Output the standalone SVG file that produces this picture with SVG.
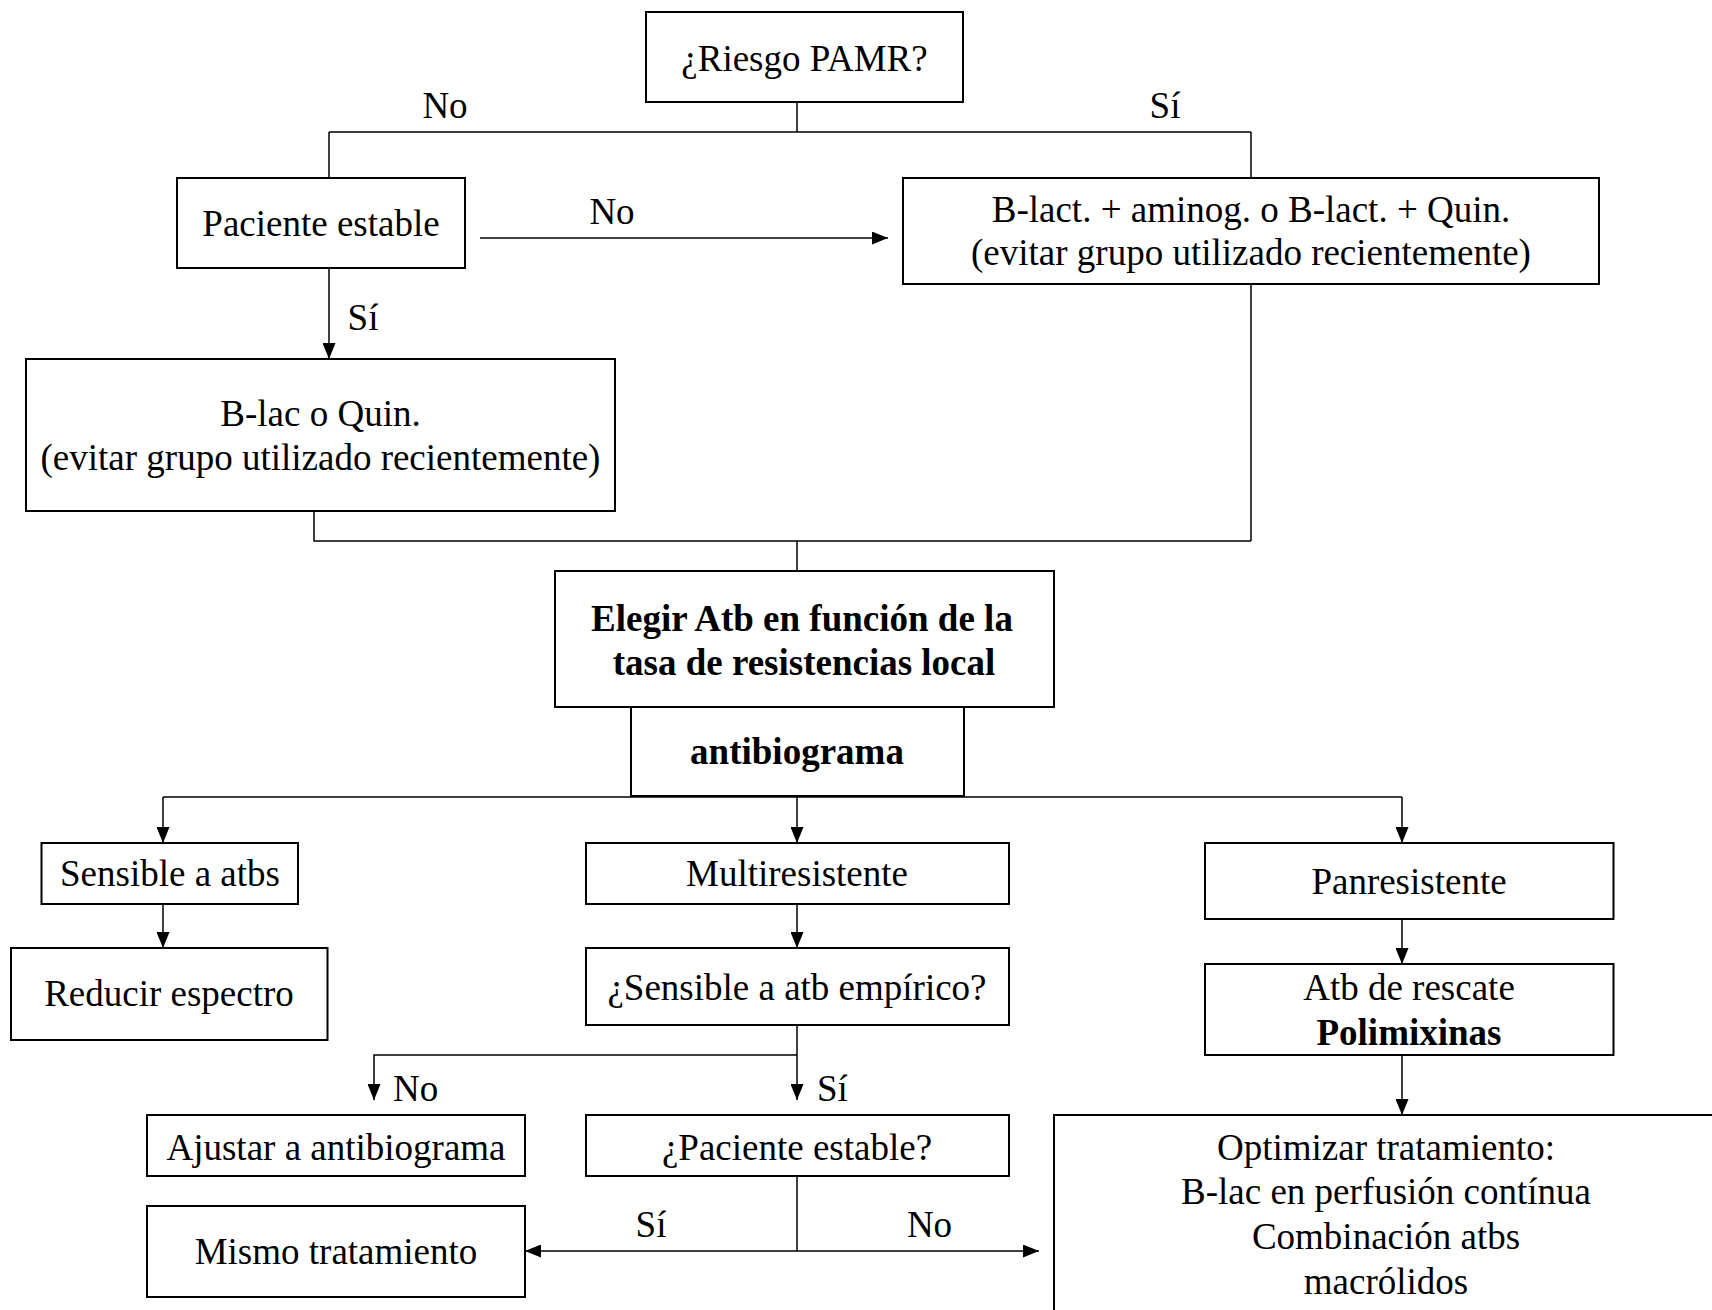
<svg xmlns="http://www.w3.org/2000/svg" width="1712" height="1310" viewBox="0 0 1712 1310">
<defs>
<style>
.box{fill:#fff;stroke:#000;stroke-width:2}
.c{fill:none;stroke:#000;stroke-width:1.5}
text{font-family:"Liberation Serif","Times New Roman",serif;font-size:37px;fill:#000}
.m{text-anchor:middle}
.b{font-weight:bold}
</style>
<marker id="ah" viewBox="0 0 16 13" markerWidth="16" markerHeight="13" refX="16" refY="6.5" markerUnits="userSpaceOnUse" orient="auto">
<path d="M0,0 L16,6.5 L0,13 z" fill="#000"/>
</marker>
</defs>
<rect width="1712" height="1310" fill="#fff"/>
<g id="connectors">
<path class="c" d="M797,102 V132 M329,132 H1251 M329,132 V178 M1251,132 V178"/>
<path class="c" d="M480,238 H888" marker-end="url(#ah)"/>
<path class="c" d="M329,268 V359" marker-end="url(#ah)"/>
<path class="c" d="M314,511 V541 H1251 M1251,284 V541 M797,541 V571"/>
<path class="c" d="M163,797 H1402"/>
<path class="c" d="M163,797 V843" marker-end="url(#ah)"/>
<path class="c" d="M797,796 V843" marker-end="url(#ah)"/>
<path class="c" d="M1402,797 V843" marker-end="url(#ah)"/>
<path class="c" d="M163,904 V948" marker-end="url(#ah)"/>
<path class="c" d="M797,904 V948" marker-end="url(#ah)"/>
<path class="c" d="M1402,919 V964" marker-end="url(#ah)"/>
<path class="c" d="M1402,1055 V1115" marker-end="url(#ah)"/>
<path class="c" d="M797,1025 V1100" marker-end="url(#ah)"/>
<path class="c" d="M797,1055 H374 V1100" marker-end="url(#ah)"/>
<path class="c" d="M797,1176 V1251"/>
<path class="c" d="M797,1251 H525" marker-end="url(#ah)"/>
<path class="c" d="M797,1251 H1039" marker-end="url(#ah)"/>
<text class="m" x="445" y="118">No</text>
<text class="m" x="1165" y="118">Sí</text>
<text class="m" x="612" y="224">No</text>
<text class="m" x="363" y="330">Sí</text>
<text x="393" y="1101">No</text>
<text x="817" y="1101">Sí</text>
<text class="m" x="651" y="1237">Sí</text>
<text class="m" x="929.5" y="1237">No</text>
</g>
<g id="n1"><rect class="box" x="646" y="12" width="317" height="90"/><text class="m" x="804.5" y="71">¿Riesgo PAMR?</text></g>
<g id="n2"><rect class="box" x="177" y="178" width="288" height="90"/><text class="m" x="321" y="236">Paciente estable</text></g>
<g id="n3"><rect class="box" x="903" y="178" width="696" height="106"/><text class="m" x="1251" y="222">B-lact. + aminog. o B-lact. + Quin.</text><text class="m" x="1251" y="265">(evitar grupo utilizado recientemente)</text></g>
<g id="n4"><rect class="box" x="26" y="359" width="589" height="152"/><text class="m" x="320.5" y="426">B-lac o Quin.</text><text class="m" x="320.5" y="470">(evitar grupo utilizado recientemente)</text></g>
<g id="n5"><rect class="box" x="555" y="571" width="499" height="136"/><text class="m b" x="802" y="631">Elegir Atb en función de la</text><text class="m b" x="804" y="675">tasa de resistencias local</text></g>
<g id="n6"><rect class="box" x="631" y="707" width="333" height="89"/><text class="m b" x="797" y="764">antibiograma</text></g>
<g id="n7"><rect class="box" x="41.5" y="843" width="256.5" height="61"/><text class="m" x="170" y="886">Sensible a atbs</text></g>
<g id="n8"><rect class="box" x="586" y="843" width="423" height="61"/><text class="m" x="797" y="886">Multiresistente</text></g>
<g id="n9"><rect class="box" x="1205" y="843" width="408.5" height="76"/><text class="m" x="1409" y="894">Panresistente</text></g>
<g id="n10"><rect class="box" x="11" y="948" width="316.5" height="92"/><text class="m" x="169" y="1006">Reducir espectro</text></g>
<g id="n11"><rect class="box" x="586" y="948" width="423" height="77"/><text class="m" x="797" y="1000">¿Sensible a atb empírico?</text></g>
<g id="n12"><rect class="box" x="1205" y="964" width="408.5" height="91"/><text class="m" x="1409" y="1000">Atb de rescate</text><text class="m b" x="1409" y="1045">Polimixinas</text></g>
<g id="n13"><rect class="box" x="147" y="1115" width="378" height="61"/><text class="m" x="336" y="1159.5">Ajustar a antibiograma</text></g>
<g id="n14"><rect class="box" x="586" y="1115" width="423" height="61"/><text class="m" x="797" y="1159.5">¿Paciente estable?</text></g>
<g id="n15"><rect class="box" x="147" y="1206" width="378" height="91"/><text class="m" x="336" y="1264">Mismo tratamiento</text></g>
<g id="n16"><rect class="box" x="1054" y="1115" width="700" height="250"/><text class="m" x="1386" y="1159.5">Optimizar tratamiento:</text><text class="m" x="1386" y="1204">B-lac en perfusión contínua</text><text class="m" x="1386" y="1249">Combinación atbs</text><text class="m" x="1386" y="1294">macrólidos</text></g>
</svg>
